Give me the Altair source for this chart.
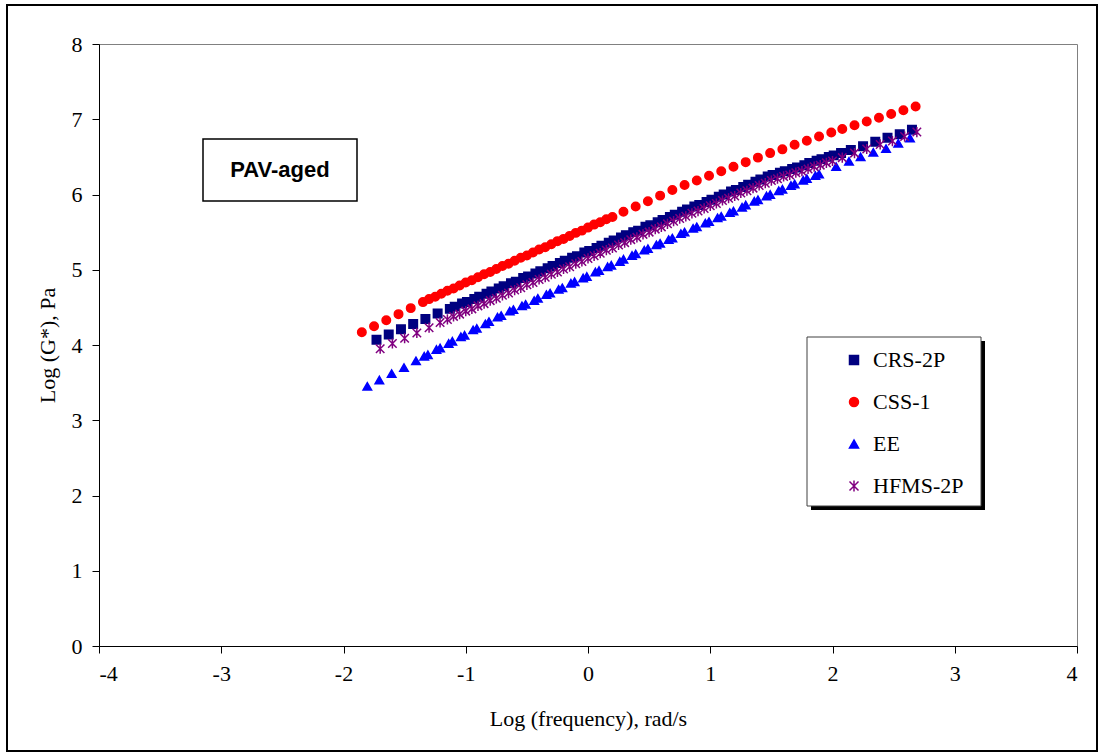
import altair as alt
import pandas as pd

# Series names, colours and marker shapes (Excel-style markers)
series_order = ["CRS-2P", "CSS-1", "EE", "HFMS-2P"]
series_colors = ["#000080", "#FF0000", "#0000FF", "#800080"]
asterisk = "M-1,-1L1,1M-1,1L1,-1M0,-1.2L0,1.2"
series_shapes = ["square", "circle", "triangle-up", asterisk]

x_ticks = [-4, -3, -2, -1, 0, 1, 2, 3, 4]
y_ticks = [0, 1, 2, 3, 4, 5, 6, 7, 8]

# CRS-2P master curve: log frequency (rad/s) and log |G*| (Pa)
crs_x = [-1.73, -1.63, -1.53, -1.43, -1.33, -1.23,
         -1.13, -1.09, -1.03, -0.99, -0.93, -0.89, -0.83, -0.79, -0.73, -0.69,
         -0.63, -0.59, -0.53, -0.49, -0.43, -0.39, -0.33, -0.29, -0.23, -0.19,
         -0.13, -0.09, -0.03, 0.01, 0.07, 0.11, 0.17, 0.21, 0.27, 0.31,
         0.37, 0.41, 0.47, 0.51, 0.57, 0.61, 0.67, 0.71, 0.77, 0.81,
         0.87, 0.91, 0.97, 1.01, 1.07, 1.11, 1.17, 1.21, 1.27, 1.31,
         1.37, 1.41, 1.47, 1.51, 1.57, 1.61, 1.67, 1.71, 1.77, 1.81,
         1.87, 1.91, 1.97, 2.01, 2.07,
         2.15, 2.25, 2.35, 2.45, 2.55, 2.65]
crs_y = [4.07, 4.14, 4.21, 4.28, 4.345, 4.42,
         4.48, 4.51, 4.55, 4.57, 4.61, 4.64, 4.68, 4.71, 4.75, 4.78,
         4.82, 4.84, 4.89, 4.91, 4.95, 4.98, 5.02, 5.05, 5.09, 5.12,
         5.16, 5.18, 5.23, 5.25, 5.29, 5.32, 5.36, 5.39, 5.43, 5.46,
         5.50, 5.52, 5.57, 5.59, 5.63, 5.66, 5.70, 5.73, 5.77, 5.80,
         5.84, 5.86, 5.90, 5.93, 5.97, 6.00, 6.04, 6.06, 6.10, 6.13,
         6.17, 6.20, 6.24, 6.26, 6.29, 6.31, 6.34, 6.36, 6.39, 6.42,
         6.45, 6.47, 6.50, 6.52, 6.55,
         6.59, 6.64, 6.70, 6.755, 6.80, 6.86]

# CSS-1 master curve
css_x = [-1.85, -1.75, -1.65, -1.55, -1.45, -1.35,
         -1.30, -1.25, -1.20, -1.15, -1.10, -1.05, -1.00, -0.95, -0.90, -0.85,
         -0.80, -0.75, -0.70, -0.65, -0.60, -0.55, -0.50, -0.45, -0.40, -0.35,
         -0.30, -0.25, -0.20, -0.15, -0.10, -0.05, 0.00, 0.05, 0.10, 0.15,
         0.20,
         0.29, 0.39, 0.49, 0.59, 0.69, 0.79, 0.89, 0.99, 1.09, 1.19,
         1.29, 1.39, 1.49, 1.59, 1.69, 1.79, 1.89, 1.99, 2.08, 2.18,
         2.28, 2.38, 2.48, 2.58, 2.68]
css_y = [4.17, 4.25, 4.33, 4.41, 4.49, 4.57,
         4.61, 4.64, 4.68, 4.72, 4.75, 4.79, 4.83, 4.86, 4.90, 4.94,
         4.97, 5.01, 5.05, 5.08, 5.12, 5.16, 5.19, 5.23, 5.27, 5.30,
         5.34, 5.38, 5.41, 5.45, 5.49, 5.52, 5.56, 5.60, 5.63, 5.67,
         5.70,
         5.77, 5.84, 5.91, 5.985, 6.06, 6.125, 6.185, 6.25, 6.31, 6.37,
         6.43, 6.49, 6.55, 6.60, 6.66, 6.715, 6.77, 6.825, 6.87, 6.92,
         6.97, 7.02, 7.07, 7.12, 7.17]

# EE master curve
ee_x = [-1.805, -1.707, -1.606, -1.505, -1.407,
        -1.34, -1.31, -1.24, -1.21, -1.14, -1.11, -1.04, -1.01, -0.94, -0.91,
        -0.84, -0.81, -0.74, -0.71, -0.64, -0.61, -0.54, -0.51, -0.44, -0.41,
        -0.34, -0.31, -0.24, -0.21, -0.14, -0.11, -0.04, -0.01, 0.06, 0.09,
        0.16, 0.19, 0.26, 0.29, 0.36, 0.39, 0.46, 0.49, 0.56, 0.59,
        0.66, 0.69, 0.76, 0.79, 0.86, 0.89, 0.96, 0.99, 1.06, 1.09,
        1.16, 1.19, 1.26, 1.29, 1.36, 1.39, 1.46, 1.49, 1.56, 1.59,
        1.66, 1.69, 1.76, 1.79, 1.86, 1.89,
        2.03, 2.135, 2.23, 2.334, 2.438, 2.538, 2.634]
ee_y = [3.45, 3.535, 3.62, 3.70, 3.79,
        3.85, 3.87, 3.94, 3.96, 4.02, 4.05, 4.11, 4.13, 4.20, 4.22,
        4.28, 4.31, 4.37, 4.39, 4.45, 4.47, 4.52, 4.54, 4.59, 4.62,
        4.67, 4.69, 4.74, 4.76, 4.82, 4.84, 4.89, 4.91, 4.97, 4.99,
        5.04, 5.06, 5.11, 5.14, 5.19, 5.21, 5.26, 5.28, 5.33, 5.35,
        5.40, 5.42, 5.48, 5.50, 5.55, 5.57, 5.62, 5.64, 5.69, 5.71,
        5.76, 5.78, 5.83, 5.86, 5.91, 5.93, 5.98, 6.00, 6.05, 6.07,
        6.12, 6.14, 6.19, 6.21, 6.25, 6.27,
        6.37, 6.44, 6.50, 6.56, 6.61, 6.68, 6.75]

# HFMS-2P master curve
hfms_x = [-1.70, -1.60, -1.50, -1.40, -1.30, -1.21,
          -1.15, -1.10, -1.05, -1.00, -0.95, -0.90, -0.85, -0.80, -0.75, -0.70,
          -0.65, -0.60, -0.55, -0.50, -0.45, -0.40, -0.35, -0.30, -0.25, -0.20,
          -0.15, -0.10, -0.05, 0.00, 0.05, 0.10, 0.15, 0.20, 0.25, 0.30,
          0.35, 0.40, 0.45, 0.50, 0.55, 0.60, 0.65, 0.70, 0.75, 0.80,
          0.85, 0.90, 0.95, 1.00, 1.05, 1.10, 1.15, 1.20, 1.25, 1.30,
          1.35, 1.40, 1.45, 1.50, 1.55, 1.60, 1.65, 1.70, 1.75, 1.80,
          1.85, 1.90, 1.95, 2.00,
          2.08, 2.18, 2.28, 2.39, 2.49, 2.59, 2.69]
hfms_y = [3.95, 4.02, 4.09, 4.16, 4.23, 4.30,
          4.34, 4.38, 4.41, 4.45, 4.48, 4.52, 4.55, 4.59, 4.62, 4.66,
          4.69, 4.73, 4.76, 4.80, 4.83, 4.87, 4.90, 4.94, 4.97, 5.01,
          5.04, 5.08, 5.11, 5.15, 5.185, 5.22, 5.26, 5.29, 5.33, 5.36,
          5.40, 5.43, 5.47, 5.50, 5.54, 5.57, 5.61, 5.645, 5.68, 5.71,
          5.75, 5.78, 5.815, 5.85, 5.88, 5.92, 5.95, 5.98, 6.02, 6.05,
          6.085, 6.12, 6.15, 6.185, 6.21, 6.24, 6.26, 6.29, 6.31, 6.34,
          6.37, 6.39, 6.42, 6.445,
          6.49, 6.55, 6.605, 6.665, 6.71, 6.77, 6.83]

frames = []
for name, xs, ys in zip(series_order,
                        [crs_x, css_x, ee_x, hfms_x],
                        [crs_y, css_y, ee_y, hfms_y]):
    frames.append(pd.DataFrame({"series": name, "logw": xs, "logg": ys}))
df = pd.concat(frames, ignore_index=True)

W, H = 978, 602
serif = "Liberation Serif"
one = alt.Data(values=[{}])


def box(x, x2, y, y2, **mark):
    return alt.Chart(one).mark_rect(**mark).encode(
        x=alt.value(x), x2=alt.value(x2), y=alt.value(y), y2=alt.value(y2)
    )


# Outer figure frame
outer = box(-92, 998, -39, 707, fill=None, stroke="black", strokeWidth=2)

# "PAV-aged" label box
pav_box = box(104, 258, 95, 157, fill="white", stroke="black", strokeWidth=1.5)
pav_text = alt.Chart(one).mark_text(
    text="PAV-aged", font="Liberation Sans", fontWeight="bold", fontSize=22,
    color="black", align="center", baseline="middle"
).encode(x=alt.value(181), y=alt.value(126))

# Legend frame with drop shadow
legend_shadow = box(712, 886, 297, 466, fill="black", stroke=None)
legend_box = box(708, 882, 293, 462, fill="white", stroke="#404040", strokeWidth=1)

# Plain hyphen-minus tick labels
plain_label = "'' + datum.value"

color_scale = alt.Scale(domain=series_order, range=series_colors)
points = alt.Chart(df).mark_point(
    filled=True, size=72, strokeWidth=1.5, opacity=1
).encode(
    x=alt.X("logw:Q",
            scale=alt.Scale(domain=[-4, 4], nice=False, zero=False),
            axis=alt.Axis(values=x_ticks, labelExpr=plain_label,
                          title="Log (frequency), rad/s",
                          titleX=489, titleY=72, titleBaseline="middle",
                          titleAlign="center")),
    y=alt.Y("logg:Q",
            scale=alt.Scale(domain=[0, 8], nice=False, zero=False),
            axis=alt.Axis(values=y_ticks, labelExpr=plain_label,
                          title="Log (G*), Pa",
                          titleX=-52, titleY=301, titleBaseline="middle",
                          titleAlign="center", titleAngle=270)),
    fill=alt.Fill("series:N", scale=color_scale, title=None),
    stroke=alt.Stroke("series:N", scale=color_scale, title=None),
    shape=alt.Shape("series:N",
                    scale=alt.Scale(domain=series_order, range=series_shapes),
                    title=None),
)

chart = alt.layer(
    outer, pav_box, pav_text, legend_shadow, legend_box, points
).properties(
    width=W, height=H,
    autosize="none",
    padding={"left": 99, "top": 44, "right": 22, "bottom": 109},
    background="white",
).configure_view(
    stroke="#808080", strokeWidth=1
).configure_axis(
    grid=False,
    domainColor="black", domainWidth=1,
    tickColor="black", tickSize=7, tickWidth=1,
    labelFont=serif, labelFontSize=22, labelColor="black", labelPadding=10,
    titleFont=serif, titleFontSize=22, titleFontWeight="normal", titleColor="black",
).configure_legend(
    orient="none", legendX=744, legendY=305,
    padding=0, rowPadding=20,
    labelFont=serif, labelFontSize=22, labelColor="black", labelOffset=8,
    symbolSize=81, symbolStrokeWidth=1.5,
)

chart.save("out.html", embed_options={"renderer": "svg", "actions": False})
